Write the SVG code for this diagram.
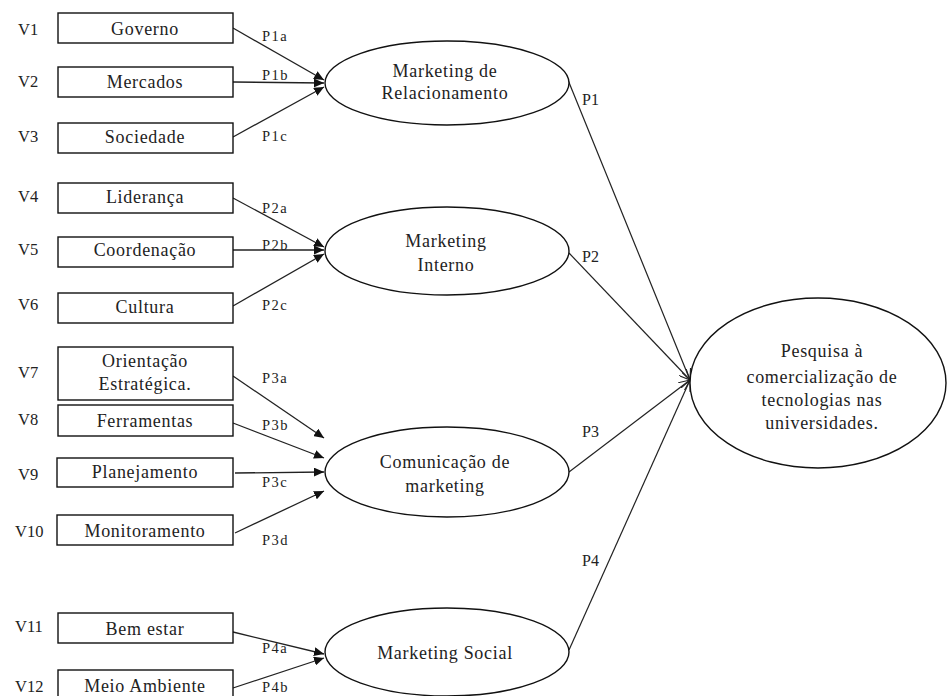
<svg xmlns="http://www.w3.org/2000/svg" width="947" height="696" viewBox="0 0 947 696">
  <defs>
    <marker id="solid" markerUnits="userSpaceOnUse" markerWidth="10" markerHeight="9" refX="10" refY="4.5" orient="auto">
      <path d="M0,0 L10,4.5 L0,9 z" fill="#111"/>
    </marker>
    <marker id="open" markerUnits="userSpaceOnUse" markerWidth="12" markerHeight="10" refX="11" refY="5" orient="auto">
      <path d="M0,0 L11,5 L0,10" fill="none" stroke="#222" stroke-width="1.1"/>
    </marker>
  </defs>
  <style>
    .box { fill: #fff; stroke: #111; stroke-width: 1.4; }
    .ell { fill: #fff; stroke: #111; stroke-width: 1.4; }
    text { font-family: 'Liberation Serif', 'DejaVu Serif', serif; fill: #222; }
    .t { font-size: 18px; letter-spacing: 0.7px; text-anchor: middle; }
    .v { font-size: 16.5px; }
    .p { font-size: 14.5px; letter-spacing: 1.5px; }
    .pp { font-size: 16px; }
    .in { stroke: #222; stroke-width: 1.3; fill: none; marker-end: url(#solid); }
    .out { stroke: #222; stroke-width: 1.2; fill: none; marker-end: url(#open); }
  </style>
  <rect width="947" height="696" fill="#fff"/>

  <!-- connectors -->
  <g id="connectors">
    <line class="in" x1="233" y1="28" x2="324" y2="80"/>
    <line class="in" x1="233" y1="82" x2="324" y2="83"/>
    <line class="in" x1="233" y1="137" x2="324" y2="87"/>

    <line class="in" x1="233" y1="198" x2="324" y2="247"/>
    <line class="in" x1="233" y1="250" x2="324" y2="250"/>
    <line class="in" x1="233" y1="306" x2="324" y2="254"/>

    <line class="in" x1="233" y1="376" x2="324" y2="438"/>
    <line class="in" x1="233" y1="423" x2="324" y2="458"/>
    <line class="in" x1="235" y1="473" x2="324" y2="472"/>
    <line class="in" x1="235" y1="533" x2="324" y2="491"/>

    <line class="in" x1="233" y1="632" x2="324" y2="654"/>
    <line class="in" x1="233" y1="688" x2="324" y2="658"/>

    <line class="out" x1="568" y1="80" x2="690" y2="380"/>
    <line class="out" x1="569" y1="253" x2="690" y2="380"/>
    <line class="out" x1="569" y1="472" x2="690" y2="380"/>
    <line class="out" x1="569" y1="650" x2="690" y2="380"/>

    <text class="p" x="262" y="41">P1a</text>
    <text class="p" x="262" y="80">P1b</text>
    <text class="p" x="262" y="141">P1c</text>
    <text class="p" x="262" y="213">P2a</text>
    <text class="p" x="262" y="250">P2b</text>
    <text class="p" x="262" y="310">P2c</text>
    <text class="p" x="262" y="383">P3a</text>
    <text class="p" x="262" y="430">P3b</text>
    <text class="p" x="262" y="487">P3c</text>
    <text class="p" x="262" y="545">P3d</text>
    <text class="p" x="262" y="653">P4a</text>
    <text class="p" x="262" y="692">P4b</text>

    <text class="pp" x="582" y="105">P1</text>
    <text class="pp" x="582" y="262">P2</text>
    <text class="pp" x="582" y="437">P3</text>
    <text class="pp" x="582" y="566">P4</text>
  </g>

  <!-- indicator boxes -->
  <g id="v1"><text class="v" x="18" y="35">V1</text><rect class="box" x="58" y="13" width="175" height="30"/><text class="t" x="145" y="35">Governo</text></g>
  <g id="v2"><text class="v" x="18" y="87">V2</text><rect class="box" x="58" y="67" width="175" height="30"/><text class="t" x="145" y="88">Mercados</text></g>
  <g id="v3"><text class="v" x="18" y="142">V3</text><rect class="box" x="58" y="123" width="175" height="30"/><text class="t" x="145" y="143">Sociedade</text></g>

  <g id="v4"><text class="v" x="18" y="202">V4</text><rect class="box" x="58" y="183" width="175" height="30"/><text class="t" x="145" y="203">Liderança</text></g>
  <g id="v5"><text class="v" x="18" y="255">V5</text><rect class="box" x="58" y="237" width="175" height="30"/><text class="t" x="145" y="256">Coordenação</text></g>
  <g id="v6"><text class="v" x="18" y="310">V6</text><rect class="box" x="58" y="293" width="175" height="30"/><text class="t" x="145" y="313">Cultura</text></g>

  <g id="v7"><text class="v" x="18" y="378">V7</text><rect class="box" x="58" y="347" width="175" height="53"/><text class="t" x="145" y="367">Orientação</text><text class="t" x="145" y="390">Estratégica.</text></g>
  <g id="v8"><text class="v" x="18" y="425">V8</text><rect class="box" x="58" y="405" width="175" height="31"/><text class="t" x="145" y="427">Ferramentas</text></g>
  <g id="v9"><text class="v" x="18" y="480">V9</text><rect class="box" x="57" y="458" width="176" height="29"/><text class="t" x="145" y="478">Planejamento</text></g>
  <g id="v10"><text class="v" x="15" y="537">V10</text><rect class="box" x="57" y="515" width="176" height="30"/><text class="t" x="145" y="537">Monitoramento</text></g>

  <g id="v11"><text class="v" x="15" y="632">V11</text><rect class="box" x="58" y="613" width="175" height="30"/><text class="t" x="145" y="635">Bem estar</text></g>
  <g id="v12"><text class="v" x="15" y="692">V12</text><rect class="box" x="58" y="670" width="175" height="32"/><text class="t" x="145" y="692">Meio Ambiente</text></g>

  <!-- constructs -->
  <g id="marketing-relacionamento"><ellipse class="ell" cx="447" cy="83" rx="122" ry="42"/><text class="t" x="445" y="77">Marketing de</text><text class="t" x="445" y="99">Relacionamento</text></g>
  <g id="marketing-interno"><ellipse class="ell" cx="447" cy="251" rx="122" ry="44"/><text class="t" x="446" y="247">Marketing</text><text class="t" x="446" y="271">Interno</text></g>
  <g id="comunicacao-marketing"><ellipse class="ell" cx="447" cy="472" rx="122" ry="45"/><text class="t" x="445" y="468">Comunicação  de</text><text class="t" x="445" y="492">marketing</text></g>
  <g id="marketing-social"><ellipse class="ell" cx="447" cy="652" rx="122" ry="44"/><text class="t" x="445" y="659">Marketing Social</text></g>

  <g id="pesquisa"><ellipse class="ell" cx="818" cy="383" rx="128" ry="85"/>
    <text class="t" x="822" y="357">Pesquisa à</text>
    <text class="t" x="822" y="383">comercialização  de</text>
    <text class="t" x="822" y="406">tecnologias nas</text>
    <text class="t" x="822" y="429">universidades.</text>
  </g>
</svg>
